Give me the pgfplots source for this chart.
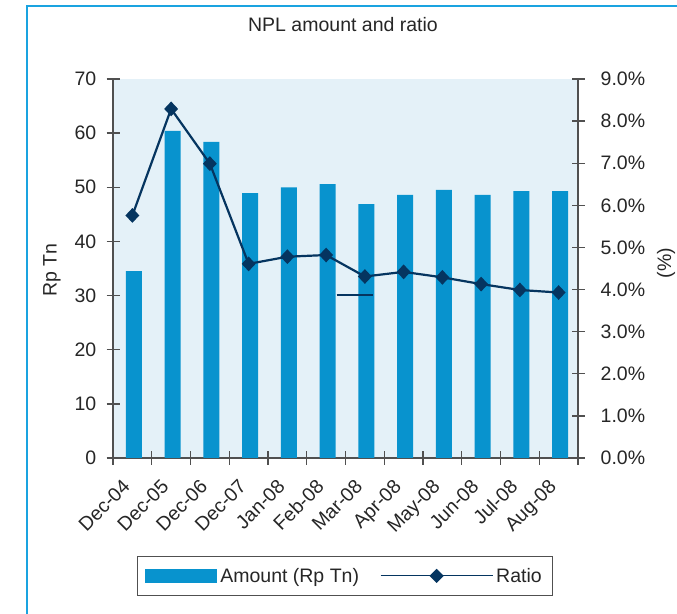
\documentclass[border=0pt]{standalone}
\usepackage{pgfplots}
\pgfplotsset{compat=1.18}
\usepackage{pgfplotstable}
\usepackage{fontspec}
\setmainfont{Liberation Sans}

\definecolor{barblue}{HTML}{0893CE}
\definecolor{bgblue}{HTML}{E4F1F8}
\definecolor{navy}{HTML}{053560}
\definecolor{frameblue}{HTML}{1AA3E0}
\definecolor{axisgray}{HTML}{505050}

% NPL amount (Rp Tn) and NPL ratio (%)
\pgfplotstableread{
idx amount ratio
0  34.5 5.76
1  60.4 8.29
2  58.4 6.99
3  48.9 4.61
4  50.0 4.78
5  50.6 4.82
6  46.9 4.31
7  48.6 4.42
8  49.5 4.29
9  48.6 4.13
10 49.3 3.99
11 49.3 3.93
}\npldata

\pgfplotsset{
  common/.style={
    at={(113pt,155pt)}, anchor=south west,
    width=465pt, height=379pt, scale only axis,
    xmin=-0.5, xmax=11.5,
    axis line style={axisgray, line width=1.5pt, -},
    tick align=center,
    major tick length=13pt, minor tick length=13pt,
    tick style={axisgray, line width=1.3pt},
    /pgf/number format/assume math mode=true,
    tick label style={font=\fontsize{19.5}{23}\selectfont, text=black!85},
  },
}

\begin{document}
\begin{tikzpicture}[x=1pt, y=1pt, font=\fontsize{19.5}{23}\selectfont]
\useasboundingbox (0,0) rectangle (677,613);
\draw[frameblue, line width=2.2pt] (27,-2) -- (27,607) -- (679,607);
\node[text=black!85] at (343,588) {NPL amount and ratio};
\node[rotate=90, text=black!85] at (52,343) {Rp Tn};
\node[rotate=90, text=black!85] at (666,350) {(\%)};

% amounts on the left axis
\begin{axis}[common,
  ymin=0, ymax=70,
  axis x line*=bottom, axis y line*=left,
  axis background/.style={fill=bgblue},
  xtick={-0.5,0.5,...,11.5}, xticklabels={},
  extra x ticks={0,...,11},
  extra x tick labels={Dec-04,Dec-05,Dec-06,Dec-07,Jan-08,Feb-08,Mar-08,Apr-08,May-08,Jun-08,Jul-08,Aug-08},
  extra x tick style={major tick length=0pt},
  x tick label style={xshift=-11pt, yshift=-20pt, rotate=45, anchor=north east, inner sep=0pt},
  ytick={0,10,...,70},
  y tick label style={anchor=east, inner sep=0pt, xshift=-10pt},
]
\addplot[ybar, bar width=16pt, bar shift=1.5pt, fill=barblue, draw=none]
  table[x=idx, y=amount]{\npldata};
\end{axis}

% ratio on the right axis
\begin{axis}[common,
  ymin=0, ymax=9,
  axis x line=none, axis y line*=right,
  ytick={0,...,9},
  yticklabel={\pgfmathprintnumber[fixed,fixed zerofill,precision=1]{\tick}\%},
  y tick label style={anchor=west, inner sep=0pt, xshift=16pt},
  legend columns=2,
  legend style={at={(0.499,-0.311)}, anchor=center, draw=axisgray, line width=1pt,
    fill=white, inner xsep=8pt, inner ysep=9pt,
    nodes={inner sep=3pt, text=black!85},
    /tikz/every even column/.append style={column sep=18pt}},
]
\addlegendimage{legend image code/.code={\fill[barblue] (0pt,-6.5pt) rectangle (71pt,6.5pt);}}
\addlegendentry{Amount (Rp Tn)}
\addplot[navy, line width=2.2pt, mark=diamond*, mark size=5.8pt,
  mark options={xscale=1.25, solid},
  legend image code/.code={
    \draw[navy, line width=1.2pt] (0pt,0pt) -- (112pt,0pt);
    \fill[navy] (56pt,5.5pt) -- (61.5pt,0pt) -- (56pt,-5.5pt) -- (50.5pt,0pt) -- cycle;}]
  table[x=idx, y=ratio]{\npldata};
\addlegendentry{Ratio}
\addplot[navy, line width=2.2pt, forget plot] coordinates {(5.27,3.87) (6.22,3.87)};
\end{axis}
\end{tikzpicture}
\end{document}
